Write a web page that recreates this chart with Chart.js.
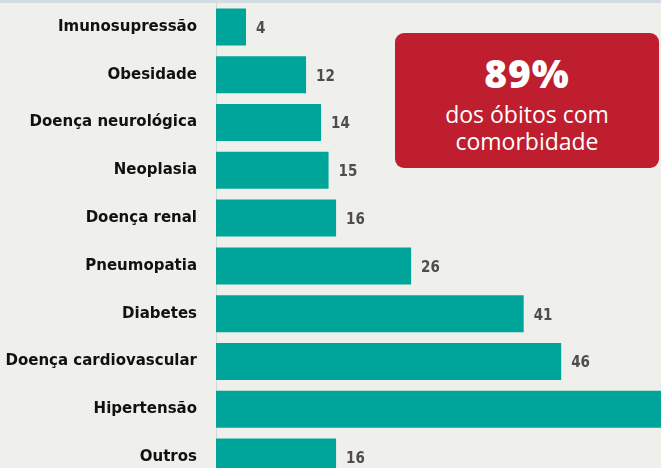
<!DOCTYPE html>
<html>
<head>
<meta charset="utf-8">
<script src="https://cdn.jsdelivr.net/npm/chart.js@4"></script>
<style>
    html, body { margin: 0; padding: 0; }
    body {
        width: 661px; height: 468px; overflow: hidden; position: relative;
        background: #efefeb;
    }
    #topBand { position: absolute; left: 0; top: 0; width: 661px; height: 3px; background: #d3dbe3; }
    #comorbChart { position: absolute; left: 0; top: 0; }
    #badge {
        position: absolute; left: 395px; top: 33px; width: 264px; height: 135px;
        background: #be1e2d; border-radius: 9px; color: #fff; text-align: center;
        font-family: 'Open Sans', sans-serif;
    }
    #badge .big { font-weight: 800; font-size: 39px; line-height: 40px; margin-top: 20px; letter-spacing: 1px; }
    #badge .small { font-size: 23px; line-height: 27px; margin-top: 8px; }
</style>
</head>
<body>
<canvas id="comorbChart" width="661" height="481"></canvas>
<div id="topBand"></div>
<div id="badge">
    <div class="big">89%</div>
    <div class="small">dos óbitos com<br>comorbidade</div>
</div>
<script>
// Comorbidades dos óbitos
const categories = ['Imunosupressão', 'Obesidade', 'Doença neurológica', 'Neoplasia', 'Doença renal',
    'Pneumopatia', 'Diabetes', 'Doença cardiovascular', 'Hipertensão', 'Outros'];
const deaths = [4, 12, 14, 15, 16, 26, 41, 46, 63, 16];

const barColor = '#00a599';
const labelFont = "'DejaVu Sans', sans-serif";
const valueFont = "'DejaVu Sans Condensed', 'DejaVu Sans', sans-serif";

// value labels at the end of each bar
const valueLabels = {
    id: 'valueLabels',
    afterDatasetsDraw(chart) {
        const { ctx } = chart;
        const meta = chart.getDatasetMeta(0);
        ctx.save();
        ctx.font = "bold 15px " + valueFont;
        ctx.fillStyle = '#4d4d4d';
        ctx.textAlign = 'left';
        ctx.textBaseline = 'middle';
        meta.data.forEach((bar, i) => {
            ctx.fillText(deaths[i], bar.x + 10, bar.y + 2);
        });
        ctx.restore();
    }
};

new Chart(document.getElementById('comorbChart'), {
    type: 'bar',
    data: {
        labels: categories,
        datasets: [{
            data: deaths,
            backgroundColor: barColor,
            borderWidth: 0,
            categoryPercentage: 1,
            barPercentage: 0.775
        }]
    },
    options: {
        indexAxis: 'y',
        responsive: false,
        animation: false,
        layout: { padding: { top: 3, right: 0, bottom: 0, left: 0 } },
        plugins: {
            legend: { display: false },
            tooltip: { enabled: false }
        },
        scales: {
            x: {
                display: false,
                min: 0,
                max: 59.3
            },
            y: {
                afterFit: (scale) => {
                    scale.width = 216;
                    // no extra room for the end labels
                    scale.paddingTop = 0;
                    scale.paddingBottom = 0;
                },
                grid: { display: false, drawTicks: false },
                border: { display: true, color: '#d6d6d2', width: 1 },
                ticks: {
                    padding: 19,
                    color: '#111',
                    font: { family: labelFont, weight: 'bold', size: 15 }
                }
            }
        }
    },
    plugins: [valueLabels]
});
</script>
</body>
</html>
